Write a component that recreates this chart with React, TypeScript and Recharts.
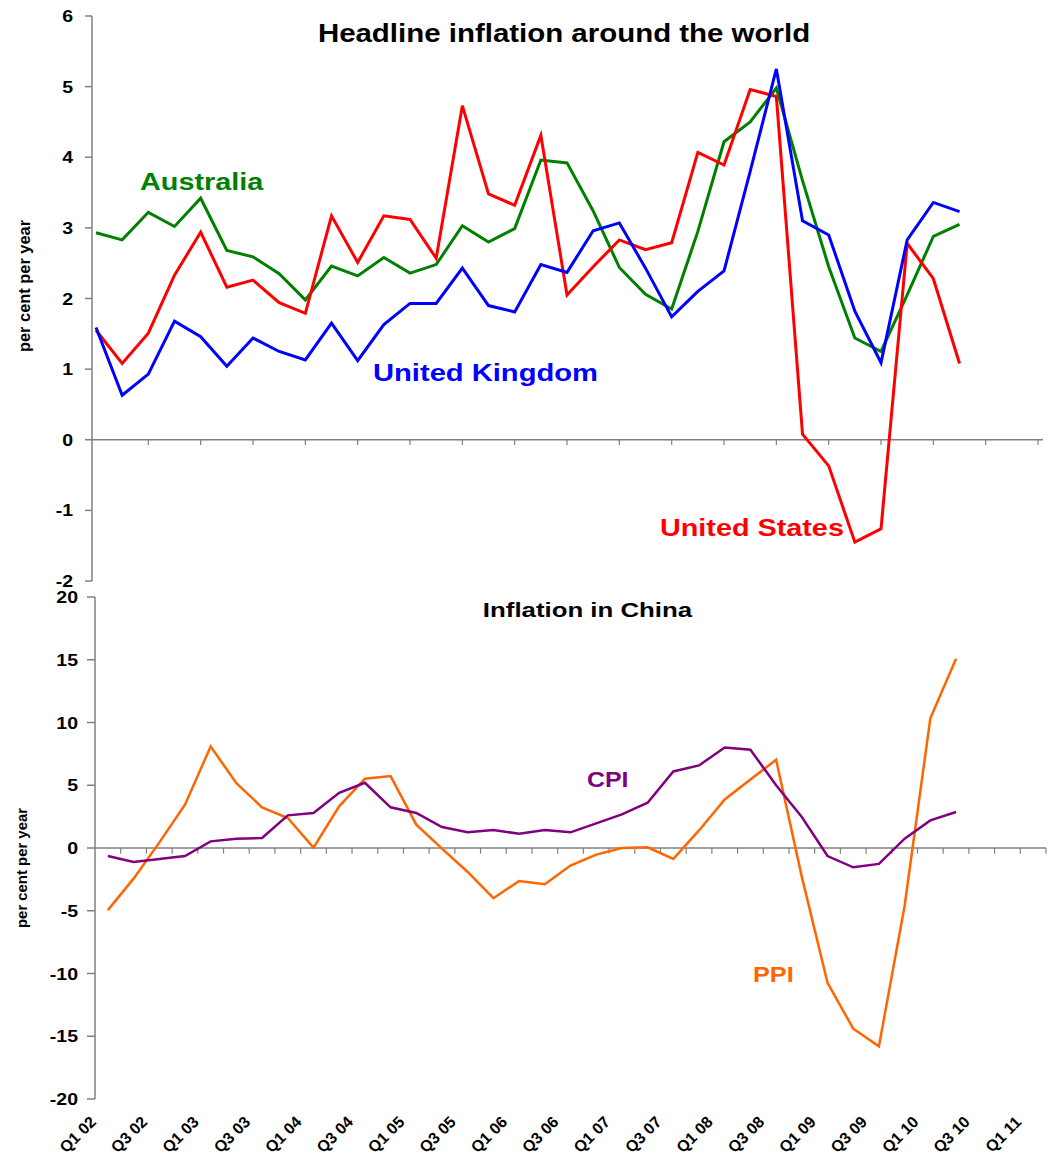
import React from 'react'
import { LineChart, Line, XAxis, YAxis, ReferenceLine } from 'recharts'

// quarters Q1 02 .. Q1 11 (axis categories)
const quarters = [
  'Q1 02', 'Q2 02', 'Q3 02', 'Q4 02', 'Q1 03', 'Q2 03', 'Q3 03', 'Q4 03',
  'Q1 04', 'Q2 04', 'Q3 04', 'Q4 04', 'Q1 05', 'Q2 05', 'Q3 05', 'Q4 05',
  'Q1 06', 'Q2 06', 'Q3 06', 'Q4 06', 'Q1 07', 'Q2 07', 'Q3 07', 'Q4 07',
  'Q1 08', 'Q2 08', 'Q3 08', 'Q4 08', 'Q1 09', 'Q2 09', 'Q3 09', 'Q4 09',
  'Q1 10', 'Q2 10', 'Q3 10', 'Q4 10', 'Q1 11',
]

// headline inflation, per cent per year
const australia = [2.93, 2.83, 3.22, 3.02, 3.42, 2.68, 2.59, 2.35, 1.98, 2.46, 2.32, 2.58, 2.36, 2.48, 3.03, 2.8, 2.99, 3.96, 3.92, 3.24, 2.44, 2.06, 1.85, 2.95, 4.22, 4.5, 4.98, 3.67, 2.45, 1.44, 1.25, 2.05, 2.88, 3.05]
const unitedKingdom = [1.59, 0.63, 0.93, 1.68, 1.46, 1.04, 1.44, 1.25, 1.13, 1.65, 1.12, 1.63, 1.93, 1.93, 2.43, 1.9, 1.81, 2.48, 2.37, 2.96, 3.07, 2.43, 1.74, 2.1, 2.39, 3.8, 5.25, 3.1, 2.9, 1.82, 1.09, 2.83, 3.36, 3.23]
const unitedStates = [1.55, 1.08, 1.51, 2.33, 2.94, 2.16, 2.26, 1.94, 1.79, 3.17, 2.51, 3.17, 3.12, 2.57, 4.73, 3.48, 3.32, 4.31, 2.05, 2.45, 2.83, 2.69, 2.79, 4.07, 3.89, 4.96, 4.86, 0.08, -0.37, -1.45, -1.26, 2.78, 2.28, 1.08]

// China
const chinaCpi = [-0.64, -1.11, -0.87, -0.64, 0.53, 0.74, 0.8, 2.6, 2.79, 4.4, 5.2, 3.24, 2.79, 1.67, 1.25, 1.43, 1.14, 1.43, 1.25, 1.96, 2.68, 3.61, 6.1, 6.58, 8.01, 7.83, 5.0, 2.47, -0.64, -1.54, -1.27, 0.74, 2.2, 2.87]
const chinaPpi = [-4.95, -2.44, 0.43, 3.45, 8.09, 5.17, 3.24, 2.39, 0.03, 3.32, 5.52, 5.73, 1.86, -0.05, -1.91, -4.0, -2.63, -2.89, -1.4, -0.53, 0.0, 0.06, -0.87, 1.4, 3.87, 5.46, 7.03, -2.3, -10.74, -14.4, -15.8, -4.6, 10.34, 15.07]

const worldTicks = [-2, -1, 0, 1, 2, 3, 4, 5, 6]
const chinaTicks = [-20, -15, -10, -5, 0, 5, 10, 15, 20]

const font = '"Liberation Sans", Arial, Helvetica, sans-serif'
const axisGrey = '#808080'

const worldData = quarters.map((q, i) => ({
  idx: i,
  quarter: q,
  aus: australia[i],
  uk: unitedKingdom[i],
  us: unitedStates[i],
}))

const chinaData = quarters.map((q, i) => ({
  idx: i,
  quarter: q,
  cpi: chinaCpi[i],
  ppi: chinaPpi[i],
}))

// tick marks on the zero line
const worldZeroTicks = quarters.map((_, i) => i).filter((i) => i > 0 && i % 2 === 0)
const chinaZeroTicks = quarters.map((_, i) => i + 0.5)
// category labels sit on every second boundary
const labelTicks = quarters.map((_, i) => i - 0.5).filter((_, i) => i % 2 === 0)

const YTick = (props: any) => {
  const { x, y, payload } = props
  return (
    <text
      transform={`translate(${x},${y}) scale(1.22,1)`}
      x={0}
      y={0}
      dy={6}
      textAnchor="end"
      fontFamily={font}
      fontWeight="bold"
      fontSize={16}
      fill="#000"
    >
      {payload.value}
    </text>
  )
}

const XTick = (props: any) => {
  const { x, payload } = props
  const label = quarters[Math.round(payload.value + 0.5)]
  return (
    <text
      transform={`translate(${x + 2},${1123 - 586}) rotate(-45)`}
      x={0}
      y={0}
      textAnchor="end"
      fontFamily={font}
      fontWeight="bold"
      fontSize={16}
      fill="#000"
    >
      {label}
    </text>
  )
}

// text stretched sideways like the original
const Note = ({ x, y, text, color, size, sx, anchor = 'start' }: any) => (
  <text
    transform={`translate(${x},${y}) scale(${sx},1)`}
    textAnchor={anchor}
    fontFamily={font}
    fontWeight="bold"
    fontSize={size}
    fill={color}
  >
    {text}
  </text>
)

export default function App() {
  return (
    <div style={{ position: 'absolute', left: 0, top: 0, width: 1048, height: 1158, background: '#fff' }}>
      {/* headline inflation */}
      <div style={{ position: 'absolute', left: 0, top: 0 }}>
        <LineChart width={1048} height={590} data={worldData} margin={{ top: 16, right: 5, bottom: 9, left: 0 }}>
          <XAxis dataKey="idx" type="number" domain={[-0.153, 36.19]} allowDataOverflow hide />
          <YAxis
            domain={[-2, 6]}
            ticks={worldTicks}
            interval={0}
            width={92}
            axisLine={{ stroke: axisGrey, strokeWidth: 1.5 }}
            tickLine={{ stroke: axisGrey, strokeWidth: 1.5 }}
            tickSize={7}
            tickMargin={12}
            tick={<YTick />}
          />
          <ReferenceLine y={0} stroke={axisGrey} strokeWidth={1.5} />
          {worldZeroTicks.map((t) => (
            <ReferenceLine key={t} segment={[{ x: t, y: 0 }, { x: t, y: -0.075 }]} stroke={axisGrey} strokeWidth={1.2} />
          ))}
          <Line dataKey="aus" stroke="#008000" strokeWidth={3} dot={false} isAnimationActive={false} />
          <Line dataKey="us" stroke="#ff0000" strokeWidth={3} dot={false} isAnimationActive={false} />
          <Line dataKey="uk" stroke="#0000ff" strokeWidth={3} dot={false} isAnimationActive={false} />
        </LineChart>
      </div>

      {/* China */}
      <div style={{ position: 'absolute', left: 0, top: 586 }}>
        <LineChart width={1048} height={572} data={chinaData} margin={{ top: 11, right: 2, bottom: 0, left: 0 }}>
          <XAxis
            dataKey="idx"
            type="number"
            domain={[-0.5, 36.5]}
            ticks={labelTicks}
            interval={0}
            axisLine={false}
            tickLine={false}
            height={59}
            tick={<XTick />}
          />
          <YAxis
            domain={[-20, 20]}
            ticks={chinaTicks}
            interval={0}
            width={95}
            axisLine={{ stroke: axisGrey, strokeWidth: 1.5 }}
            tickLine={{ stroke: axisGrey, strokeWidth: 1.5 }}
            tickSize={8}
            tickMargin={9}
            tick={<YTick />}
          />
          <ReferenceLine y={0} stroke={axisGrey} strokeWidth={1.5} />
          {chinaZeroTicks.map((t) => (
            <ReferenceLine key={t} segment={[{ x: t, y: 0 }, { x: t, y: -0.45 }]} stroke={axisGrey} strokeWidth={1.2} />
          ))}
          <Line dataKey="ppi" stroke="#ff6600" strokeWidth={2.5} dot={false} isAnimationActive={false} />
          <Line dataKey="cpi" stroke="#800080" strokeWidth={2.5} dot={false} isAnimationActive={false} />
        </LineChart>
      </div>

      {/* titles, series names, axis titles */}
      <svg width={1048} height={1158} style={{ position: 'absolute', left: 0, top: 0, pointerEvents: 'none' }}>
        <Note x={564} y={41.5} text="Headline inflation around the world" color="#000" size={25.5} sx={1.155} anchor="middle" />
        <Note x={587.5} y={616.5} text="Inflation in China" color="#000" size={21} sx={1.23} anchor="middle" />
        <Note x={140} y={190} text="Australia" color="#008000" size={24} sx={1.2} />
        <Note x={373} y={381} text="United Kingdom" color="#0000ff" size={24.5} sx={1.19} />
        <Note x={660} y={536} text="United States" color="#ff0000" size={24.5} sx={1.175} />
        <Note x={587} y={787} text="CPI" color="#800080" size={21.5} sx={1.16} />
        <Note x={753} y={982} text="PPI" color="#ff6600" size={22} sx={1.15} />
        <text transform="translate(30,286) rotate(-90)" textAnchor="middle" fontFamily={font} fontWeight="bold" fontSize={16.4} fill="#000">
          per cent per year
        </text>
        <text transform="translate(26.8,868) rotate(-90)" textAnchor="middle" fontFamily={font} fontWeight="bold" fontSize={14.9} fill="#000">
          per cent per year
        </text>
      </svg>
    </div>
  )
}
